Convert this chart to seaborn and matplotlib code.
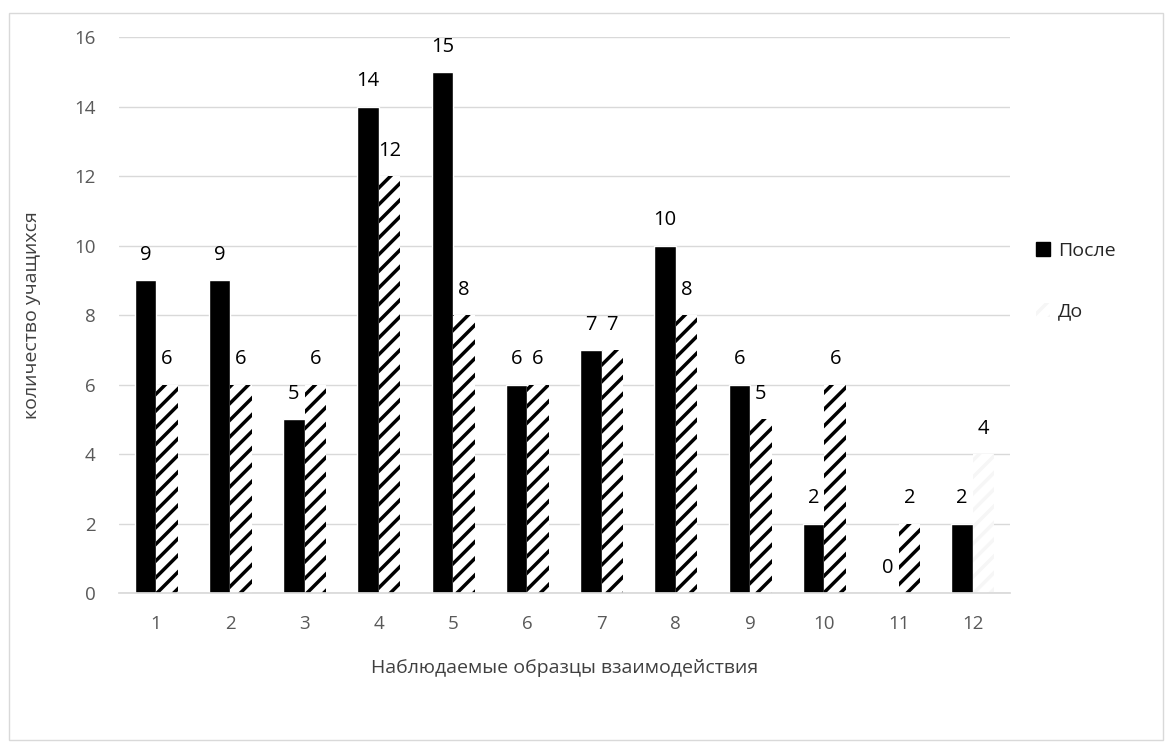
import pandas as pd
import matplotlib.pyplot as plt
import seaborn as sns
from matplotlib.patches import Rectangle

# Data
categories = [str(i) for i in range(1, 13)]
after_vals = [9, 9, 5, 14, 15, 6, 7, 10, 6, 2, 0, 2]
before_vals = [6, 6, 6, 12, 8, 6, 7, 8, 5, 6, 2, 4]
series_names = ["После", "До"]

df = pd.DataFrame({
    "cat": categories * 2,
    "value": after_vals + before_vals,
    "series": [series_names[0]] * 12 + [series_names[1]] * 12,
})

sns.set_theme(style="white")
plt.rcParams["font.family"] = ["Open Sans", "DejaVu Sans"]
plt.rcParams["hatch.linewidth"] = 2.5

fig = plt.figure(figsize=(11.71, 7.46), dpi=100)
ax = fig.add_axes([0.1016, 0.205, 0.7609, 0.745])

sns.barplot(
    data=df, x="cat", y="value", hue="series",
    palette=["black", "white"], width=0.58, saturation=1,
    ax=ax, legend=True,
)

# hatched style for "До" (last bar is almost invisible in the original)
for i, bar in enumerate(ax.containers[1]):
    bar.set_facecolor("white")
    bar.set_hatch("//")
    bar.set_linewidth(0)
    bar.set_edgecolor("#f6f6f6" if i == 11 else "black")

for cont in ax.containers:
    ax.bar_label(cont, padding=11, fontsize=14.5, color="black")

ax.set_ylim(0, 16)
ax.set_yticks(range(0, 17, 2))
ax.yaxis.grid(True, color="#d9d9d9", linewidth=1)
ax.set_axisbelow(True)
for s in ["top", "right", "left"]:
    ax.spines[s].set_visible(False)
ax.spines["bottom"].set_color("#d9d9d9")
ax.tick_params(axis="both", length=0, labelsize=13.5, colors="#595959")
ax.tick_params(axis="x", pad=15.5)
ax.tick_params(axis="y", pad=17)

ax.set_xlabel("Наблюдаемые образцы взаимодействия", fontsize=14, color="#404040", labelpad=19)
ax.set_ylabel("количество учащихся", fontsize=14, color="#404040", labelpad=24)

handles, labels = ax.get_legend_handles_labels()
handles[0].set_facecolor("black")
handles[0].set_edgecolor("black")
handles[1].set_facecolor("white")
handles[1].set_hatch("//")
handles[1].set_edgecolor("#f6f6f6")
handles[1].set_linewidth(0)
ax.legend(handles, labels, loc="center left", bbox_to_anchor=(1.01, 0.561),
          frameon=False, fontsize=14, handlelength=0.7, handleheight=0.7,
          handletextpad=0.4, labelspacing=2.2)

# outer chart border
fig.patches.append(Rectangle((9 / 1171, 1 - 740 / 746), 1154 / 1171, 727 / 746,
                             transform=fig.transFigure, fill=False,
                             edgecolor="#d9d9d9", linewidth=1))

plt.savefig("out.png", dpi=100)
